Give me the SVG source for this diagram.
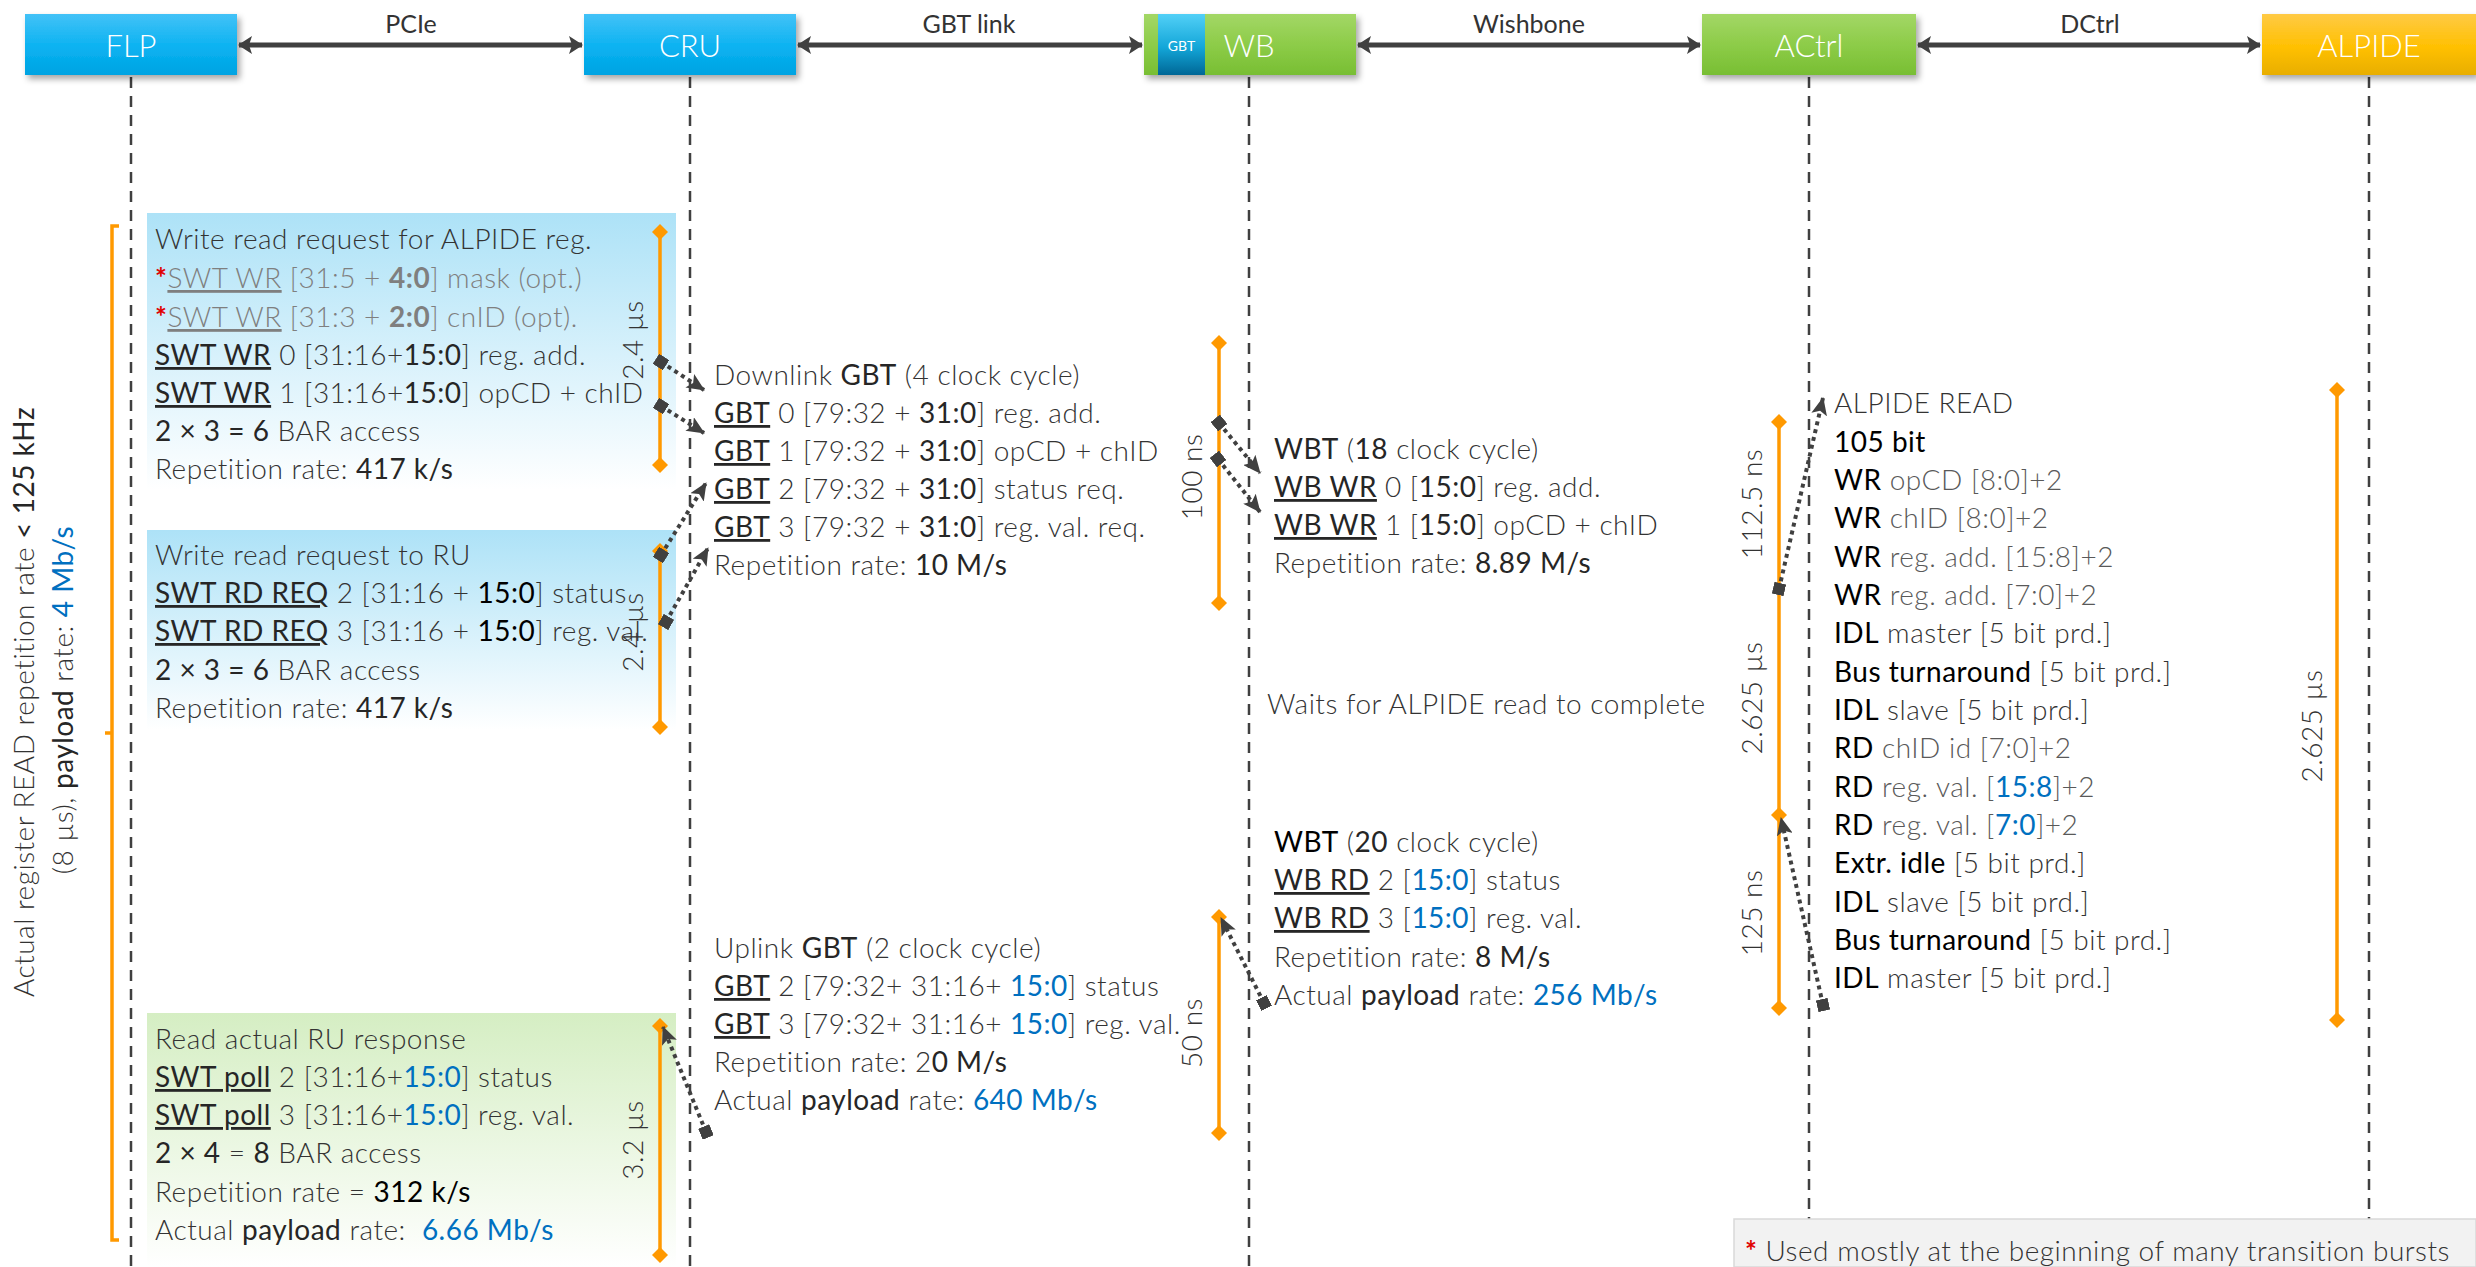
<svg xmlns="http://www.w3.org/2000/svg" width="2476" height="1267" viewBox="0 0 2476 1267">
<style>
.t{font-family:Lato,"Liberation Sans",sans-serif;font-size:28px;letter-spacing:0.5px;fill:#333;font-weight:300}
.b{font-weight:400;fill:#262626}
.k{font-weight:400;fill:#000}
.g{fill:#7f7f7f}
.u{text-decoration:underline}
.bl{fill:#0070c0;font-weight:400}
.r{fill:#e00000;font-weight:700}
.hd{font-family:Lato,"Liberation Sans",sans-serif;font-size:31px;fill:#fff;font-weight:300;text-anchor:middle}
.lk{font-family:Lato,"Liberation Sans",sans-serif;font-size:25px;fill:#333;font-weight:400;text-anchor:middle}
.life{stroke:#404040;stroke-width:2.5;stroke-dasharray:11 8;fill:none}
.ha{stroke:#404040;stroke-width:5;fill:none;marker-start:url(#ha);marker-end:url(#ha)}
.ob{stroke:#ff9900;stroke-width:3.5;fill:none;marker-start:url(#od);marker-end:url(#od)}
.dc{stroke:#404040;stroke-width:4;stroke-dasharray:4 4;fill:none;marker-start:url(#sq);marker-end:url(#ar)}
.vt{text-anchor:middle}
</style>
<defs>
<linearGradient id="gBlue" x1="0" y1="0" x2="0" y2="1"><stop offset="0" stop-color="#43c2f7"/><stop offset="0.55" stop-color="#0ab2f1"/><stop offset="1" stop-color="#00a3e2"/></linearGradient>
<linearGradient id="gGreen" x1="0" y1="0" x2="0" y2="1"><stop offset="0" stop-color="#a3d766"/><stop offset="0.55" stop-color="#8bcb46"/><stop offset="1" stop-color="#78be33"/></linearGradient>
<linearGradient id="gOr" x1="0" y1="0" x2="0" y2="1"><stop offset="0" stop-color="#ffca45"/><stop offset="0.55" stop-color="#ffc000"/><stop offset="1" stop-color="#e8ae00"/></linearGradient>
<linearGradient id="gGbt" x1="0" y1="0" x2="0" y2="1"><stop offset="0" stop-color="#52d0f7"/><stop offset="0.55" stop-color="#13a6d8"/><stop offset="1" stop-color="#006796"/></linearGradient>
<linearGradient id="gBox" x1="0" y1="0" x2="0" y2="1"><stop offset="0" stop-color="#ade2f7"/><stop offset="1" stop-color="#ffffff"/></linearGradient>
<linearGradient id="gBoxG" x1="0" y1="0" x2="0" y2="1"><stop offset="0" stop-color="#d5eec3"/><stop offset="1" stop-color="#ffffff"/></linearGradient>
<filter id="sh" x="-10%" y="-10%" width="130%" height="140%"><feDropShadow dx="3" dy="4" stdDeviation="3" flood-color="#000" flood-opacity="0.35"/></filter>
<marker id="ha" viewBox="0 0 14 18" refX="13" refY="9" markerWidth="14" markerHeight="18" markerUnits="userSpaceOnUse" orient="auto-start-reverse"><path d="M0,0 L14,9 L0,18 L3,9 Z" fill="#404040"/></marker>
<marker id="od" viewBox="0 0 16 16" refX="8" refY="8" markerWidth="16" markerHeight="16" markerUnits="userSpaceOnUse" orient="0"><path d="M8,0 L16,8 L8,16 L0,8 Z" fill="#ff9900"/></marker>
<marker id="sq" viewBox="0 0 12 12" refX="6" refY="6" markerWidth="12" markerHeight="12" markerUnits="userSpaceOnUse" orient="auto"><rect width="12" height="12" fill="#404040"/></marker>
<marker id="dd" viewBox="0 0 16 16" refX="8" refY="8" markerWidth="16" markerHeight="16" markerUnits="userSpaceOnUse" orient="0"><path d="M8,0 L16,8 L8,16 L0,8 Z" fill="#404040"/></marker>
<marker id="ar" viewBox="0 0 18 16" refX="17" refY="8" markerWidth="18" markerHeight="16" markerUnits="userSpaceOnUse" orient="auto"><path d="M0,0 L18,8 L0,16 L4,8 Z" fill="#404040"/></marker>
</defs>
<rect width="2476" height="1267" fill="#fff"/>

<!-- lifelines -->
<g id="lifelines">
<path class="life" d="M131,77 V1267 M690,77 V1267 M1249,77 V1267 M1809,77 V1267 M2369,77 V1267"/>
</g>

<!-- header nodes -->
<g id="FLP"><rect x="25" y="14" width="212" height="61" fill="url(#gBlue)" filter="url(#sh)"/><text class="hd" x="131" y="57">FLP</text></g>
<g id="CRU"><rect x="584" y="14" width="212" height="61" fill="url(#gBlue)" filter="url(#sh)"/><text class="hd" x="690" y="57">CRU</text></g>
<g id="WB"><rect x="1144" y="14" width="212" height="61" fill="url(#gGreen)" filter="url(#sh)"/><rect x="1158" y="14" width="47" height="61" fill="url(#gGbt)"/><text x="1181.5" y="51" style="font-family:Lato,'Liberation Sans',sans-serif;font-size:14px;fill:#fff;text-anchor:middle">GBT</text><text class="hd" x="1249" y="57">WB</text></g>
<g id="ACtrl"><rect x="1702" y="14" width="214" height="61" fill="url(#gGreen)" filter="url(#sh)"/><text class="hd" x="1809" y="57">ACtrl</text></g>
<g id="ALPIDE"><rect x="2262" y="14" width="214" height="61" fill="url(#gOr)" filter="url(#sh)"/><text class="hd" x="2369" y="57">ALPIDE</text></g>

<!-- header links -->
<g id="links">
<path class="ha" d="M239,45 H582"/>
<path class="ha" d="M798,45 H1142"/>
<path class="ha" d="M1358,45 H1700"/>
<path class="ha" d="M1918,45 H2260"/>
<text class="lk" x="411" y="33">PCIe</text>
<text class="lk" x="969" y="33">GBT link</text>
<text class="lk" x="1529" y="33">Wishbone</text>
<text class="lk" x="2090" y="33">DCtrl</text>
</g>

<!-- left bracket and label -->
<g id="overall">
<path d="M119,226 H112 V1240 H119 M112,733 H105" stroke="#ff9900" stroke-width="3.5" fill="none"/>
<text class="t vt" transform="translate(34,702) rotate(-90)">Actual register READ repetition rate <tspan class="b">&lt; 125 kHz</tspan></text>
<text class="t vt" transform="translate(73,700) rotate(-90)">(8 µs), <tspan class="b">payload</tspan> rate: <tspan class="bl">4 Mb/s</tspan></text>
</g>

<!-- box 1 -->
<g id="box1">
<rect x="147" y="213" width="529" height="277" fill="url(#gBox)"/>
<text class="t" x="155" y="249">Write read request for ALPIDE reg.</text>
<text class="t" x="155" y="288"><tspan class="r">*</tspan><tspan class="g u">SWT WR</tspan><tspan class="g"> [31:5 + </tspan><tspan class="g" font-weight="700">4:0</tspan><tspan class="g">] mask (opt.)</tspan></text>
<text class="t" x="155" y="327"><tspan class="r">*</tspan><tspan class="g u">SWT WR</tspan><tspan class="g"> [31:3 + </tspan><tspan class="g" font-weight="700">2:0</tspan><tspan class="g">] cnID (opt).</tspan></text>
<text class="t" x="155" y="365"><tspan class="b u">SWT WR</tspan> 0 [31:16+<tspan class="b">15:0</tspan>] reg. add.</text>
<text class="t" x="155" y="403"><tspan class="b u">SWT WR</tspan> 1 [31:16+<tspan class="b">15:0</tspan>] opCD + chID</text>
<text class="t" x="155" y="441"><tspan class="b">2 × 3 = 6</tspan> BAR access</text>
<text class="t" x="155" y="479">Repetition rate: <tspan class="b">417 k/s</tspan></text>
<path class="ob" d="M660,232 V465"/>
<text class="t vt" transform="translate(643,340) rotate(-90)">2.4 µs</text>
</g>

<!-- box 2 -->
<g id="box2">
<rect x="147" y="530" width="529" height="200" fill="url(#gBox)"/>
<text class="t" x="155" y="565">Write read request to RU</text>
<text class="t" x="155" y="603"><tspan class="b u">SWT RD REQ</tspan> 2 [31:16 + <tspan class="k">15:0</tspan>] status</text>
<text class="t" x="155" y="641"><tspan class="b u">SWT RD REQ</tspan> 3 [31:16 + <tspan class="k">15:0</tspan>] reg. val.</text>
<text class="t" x="155" y="680"><tspan class="b">2 × 3 = 6</tspan> BAR access</text>
<text class="t" x="155" y="718">Repetition rate: <tspan class="b">417 k/s</tspan></text>
<path class="ob" d="M660,551 V727"/>
<text class="t vt" transform="translate(643,632) rotate(-90)">2.4 µs</text>
</g>

<!-- box 3 -->
<g id="box3">
<rect x="147" y="1013" width="529" height="254" fill="url(#gBoxG)"/>
<text class="t" x="155" y="1049">Read actual RU response</text>
<text class="t" x="155" y="1087"><tspan class="b u">SWT poll</tspan> 2 [31:16+<tspan class="bl">15:0</tspan>] status</text>
<text class="t" x="155" y="1125"><tspan class="b u">SWT poll</tspan> 3 [31:16+<tspan class="bl">15:0</tspan>] reg. val.</text>
<text class="t" x="155" y="1163"><tspan class="b">2 × 4</tspan> = <tspan class="b">8</tspan> BAR access</text>
<text class="t" x="155" y="1202">Repetition rate = <tspan class="k">312 k/s</tspan></text>
<text class="t" x="155" y="1240">Actual <tspan class="b">payload</tspan> rate: <tspan class="bl" dx="8">6.66 Mb/s</tspan></text>
<path class="ob" d="M660,1026 V1255"/>
<text class="t vt" transform="translate(643,1140) rotate(-90)">3.2 µs</text>
</g>

<!-- CRU texts -->
<g id="cru-down">
<text class="t" x="714" y="385">Downlink <tspan class="b">GBT</tspan> (4 clock cycle)</text>
<text class="t" x="714" y="423"><tspan class="b u">GBT</tspan> 0 [79:32 + <tspan class="b">31:0</tspan>] reg. add.</text>
<text class="t" x="714" y="461"><tspan class="b u">GBT</tspan> 1 [79:32 + <tspan class="b">31:0</tspan>] opCD + chID</text>
<text class="t" x="714" y="499"><tspan class="b u">GBT</tspan> 2 [79:32 + <tspan class="b">31:0</tspan>] status req.</text>
<text class="t" x="714" y="537"><tspan class="b u">GBT</tspan> 3 [79:32 + <tspan class="b">31:0</tspan>] reg. val. req.</text>
<text class="t" x="714" y="575">Repetition rate: <tspan class="b">10 M/s</tspan></text>
</g>
<g id="cru-up">
<text class="t" x="714" y="958">Uplink <tspan class="b">GBT</tspan> (2 clock cycle)</text>
<text class="t" x="714" y="996"><tspan class="b u">GBT</tspan> 2 [79:32+ 31:16+ <tspan class="bl">15:0</tspan>] status</text>
<text class="t" x="714" y="1034"><tspan class="b u">GBT</tspan> 3 [79:32+ 31:16+ <tspan class="bl">15:0</tspan>] reg. val.</text>
<text class="t" x="714" y="1072">Repetition rate: 2<tspan class="b">0 M/s</tspan></text>
<text class="t" x="714" y="1110">Actual <tspan class="b">payload</tspan> rate: <tspan class="bl">640 Mb/s</tspan></text>
</g>

<!-- WB texts -->
<g id="wb-down">
<path class="ob" d="M1219,343 V603"/>
<text class="t vt" transform="translate(1202,477) rotate(-90)">100 ns</text>
<text class="t" x="1274" y="459"><tspan class="b">WBT</tspan> (<tspan class="b">18</tspan> clock cycle)</text>
<text class="t" x="1274" y="497"><tspan class="b u">WB WR</tspan> 0 [<tspan class="b">15:0</tspan>] reg. add.</text>
<text class="t" x="1274" y="535"><tspan class="b u">WB WR</tspan> 1 [<tspan class="b">15:0</tspan>] opCD + chID</text>
<text class="t" x="1274" y="573">Repetition rate: <tspan class="b">8.89 M/s</tspan></text>
<text class="t" x="1267" y="714">Waits for ALPIDE read to complete</text>
</g>
<g id="wb-up">
<path class="ob" d="M1219,917 V1133"/>
<text class="t vt" transform="translate(1202,1033) rotate(-90)">50 ns</text>
<text class="t" x="1274" y="852"><tspan class="k">WBT</tspan> (<tspan class="b">20</tspan> clock cycle)</text>
<text class="t" x="1274" y="890"><tspan class="b u">WB RD</tspan> 2 [<tspan class="bl">15:0</tspan>] status</text>
<text class="t" x="1274" y="928"><tspan class="b u">WB RD</tspan> 3 [<tspan class="bl">15:0</tspan>] reg. val.</text>
<text class="t" x="1274" y="967">Repetition rate: <tspan class="b">8 M/s</tspan></text>
<text class="t" x="1274" y="1005">Actual <tspan class="b">payload</tspan> rate: <tspan class="bl">256 Mb/s</tspan></text>
</g>

<!-- ACtrl texts -->
<g id="actrl">
<path class="ob" d="M1779,422 V1008"/>
<path d="M1779,815 l8,0" stroke="none" marker-start="url(#od)"/>
<text class="t vt" transform="translate(1762,504) rotate(-90)">112.5 ns</text>
<text class="t vt" transform="translate(1762,698) rotate(-90)">2.625 µs</text>
<text class="t vt" transform="translate(1762,913) rotate(-90)">125 ns</text>
<text class="t" x="1834" y="413">ALPIDE READ</text>
<text class="t" x="1834" y="452"><tspan class="k">105 bit</tspan></text>
<text class="t" x="1834" y="490"><tspan class="k">WR</tspan> <tspan fill="#595959">opCD [8:0]+2</tspan></text>
<text class="t" x="1834" y="528"><tspan class="k">WR</tspan> <tspan fill="#595959">chID [8:0]+2</tspan></text>
<text class="t" x="1834" y="567"><tspan class="k">WR</tspan> <tspan fill="#595959">reg. add. [15:8]+2</tspan></text>
<text class="t" x="1834" y="605"><tspan class="k">WR</tspan> <tspan fill="#595959">reg. add. [7:0]+2</tspan></text>
<text class="t" x="1834" y="643"><tspan class="k">IDL</tspan> master [5 bit prd.]</text>
<text class="t" x="1834" y="682"><tspan class="k">Bus turnaround</tspan> [5 bit prd.]</text>
<text class="t" x="1834" y="720"><tspan class="k">IDL</tspan> slave [5 bit prd.]</text>
<text class="t" x="1834" y="758"><tspan class="k">RD</tspan> <tspan fill="#595959">chID id [7:0]+2</tspan></text>
<text class="t" x="1834" y="797"><tspan class="k">RD</tspan> <tspan fill="#595959">reg. val. [</tspan><tspan class="bl">15:8</tspan><tspan fill="#595959">]+2</tspan></text>
<text class="t" x="1834" y="835"><tspan class="k">RD</tspan> <tspan fill="#595959">reg. val. [</tspan><tspan class="bl">7:0</tspan><tspan fill="#595959">]+2</tspan></text>
<text class="t" x="1834" y="873"><tspan class="k">Extr. idle</tspan> [5 bit prd.]</text>
<text class="t" x="1834" y="912"><tspan class="k">IDL</tspan> slave [5 bit prd.]</text>
<text class="t" x="1834" y="950"><tspan class="k">Bus turnaround</tspan> [5 bit prd.]</text>
<text class="t" x="1834" y="988"><tspan class="k">IDL</tspan> master [5 bit prd.]</text>
</g>

<!-- ALPIDE -->
<g id="alpide">
<path class="ob" d="M2337,390 V1020"/>
<text class="t vt" transform="translate(2322,726) rotate(-90)">2.625 µs</text>
</g>

<!-- connectors -->
<g id="connectors">
<path class="dc" d="M661,362 L704,390"/>
<path class="dc" d="M661,406 L704,433"/>
<path class="dc" d="M661,555 L706,483"/>
<path class="dc" d="M666,622 L708,548"/>
<path class="dc" d="M706,1132 L663,1027"/>
<path class="dc" d="M1219,423 L1260,473"/>
<path class="dc" d="M1218,459 L1260,512"/>
<path class="dc" d="M1264,1003 L1221,918"/>
<path class="dc" d="M1779,589 L1823,398" marker-start="url(#dd)"/>
<path class="dc" d="M1823,1005 L1781,818"/>
</g>

<!-- footnote -->
<g id="footnote">
<rect x="1734" y="1219" width="742" height="48" fill="#f2f2f2" stroke="#d9d9d9" stroke-width="1.5"/>
<text class="t" x="1745" y="1261"><tspan class="r">*</tspan> Used mostly at the beginning of many transition bursts</text>
</g>
</svg>
